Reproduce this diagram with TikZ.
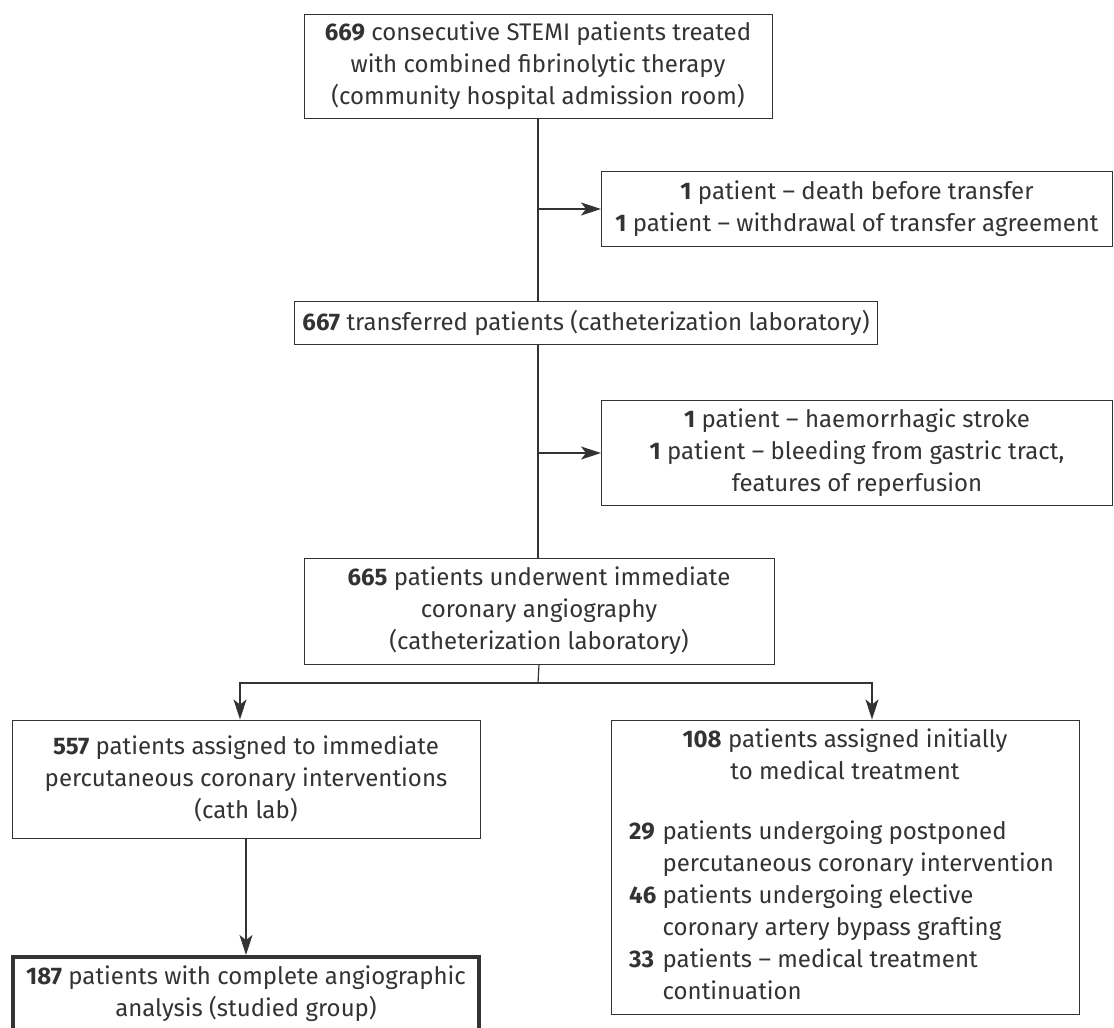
\documentclass[tikz,border=0pt]{standalone}
\usepackage{fontspec}
\setmainfont{Fira Sans}
\usetikzlibrary{arrows.meta,positioning}
\definecolor{ink}{HTML}{333333}
\tikzset{
  box/.style={draw=ink, line width=1pt, align=center, inner sep=0pt},
  link/.style={draw=ink, line width=1.2pt},
  arr/.style={link, -{Stealth[length=20pt,width=13pt,inset=5pt]}},
}
\begin{document}
\begin{tikzpicture}[x=1pt,y=-1pt, font=\fontsize{24}{32}\selectfont, text=ink]
\useasboundingbox (0,0) rectangle (1114,1028);
% main column
\node[box, minimum width=468pt, minimum height=104pt] (start) at (538,66)
  {\textbf{669} consecutive STEMI patients treated\\with combined fibrinolytic therapy\\(community hospital admission room)};
\node[box, minimum width=583pt, minimum height=43pt] (transfer) at (586,323)
  {\textbf{667} transferred patients (catheterization laboratory)};
\node[box, minimum width=470pt, minimum height=106pt] (angio) at (539,611)
  {\textbf{665} patients underwent immediate\\coronary angiography\\(catheterization laboratory)};
% exclusions
\node[box, minimum width=511pt, minimum height=75pt] (excla) at (857,209)
  {\textbf{1} patient -- death before transfer\\\textbf{1} patient -- withdrawal of transfer agreement};
\node[box, minimum width=511pt, minimum height=105pt] (exclb) at (857,453)
  {\textbf{1} patient -- haemorrhagic stroke\\\textbf{1} patient -- bleeding from gastric tract,\\features of reperfusion};
% two arms
\node[box, minimum width=468pt, minimum height=118pt] (pci) at (246,779)
  {\textbf{557} patients assigned to immediate\\percutaneous coronary interventions\\(cath lab)};
\node[box, minimum width=468pt, minimum height=294pt] (medical) at (845,867) {};
\node[align=center] (medhead) at (845,754) {\textbf{108} patients assigned initially\\to medical treatment};
\node[anchor=west, inner sep=0pt] (medlist) at (629,913)
  {\begin{tabular}{@{}l@{\ }l@{}}
   \textbf{29} & patients undergoing postponed\\
               & percutaneous coronary intervention\\
   \textbf{46} & patients undergoing elective\\
               & coronary artery bypass grafting\\
   \textbf{33} & patients -- medical treatment\\
               & continuation
   \end{tabular}};
\node[box, line width=4pt, minimum width=466pt, minimum height=74pt] (studied) at (246,994)
  {\textbf{187} patients with complete angiographic\\analysis (studied group)};
% connectors
\coordinate (fork) at (538,683);
\coordinate (forkl) at (240,683);
\coordinate (forkr) at (872,683);
\draw[link] (start.south) -- (start.south |- transfer.north);
\draw[arr] (start.south |- excla.west) -- (excla.west);
\draw[link] (start.south |- transfer.south) -- (start.south |- angio.north);
\draw[arr] (start.south |- exclb.west) -- (exclb.west);
\draw[link] (angio.south) -- (fork);
\draw[arr] (fork) -- (forkl) -- (forkl |- pci.north);
\draw[arr] (fork) -- (forkr) -- (forkr |- medical.north);
\draw[arr] (pci.south) -- (studied.north);
\end{tikzpicture}
\end{document}
